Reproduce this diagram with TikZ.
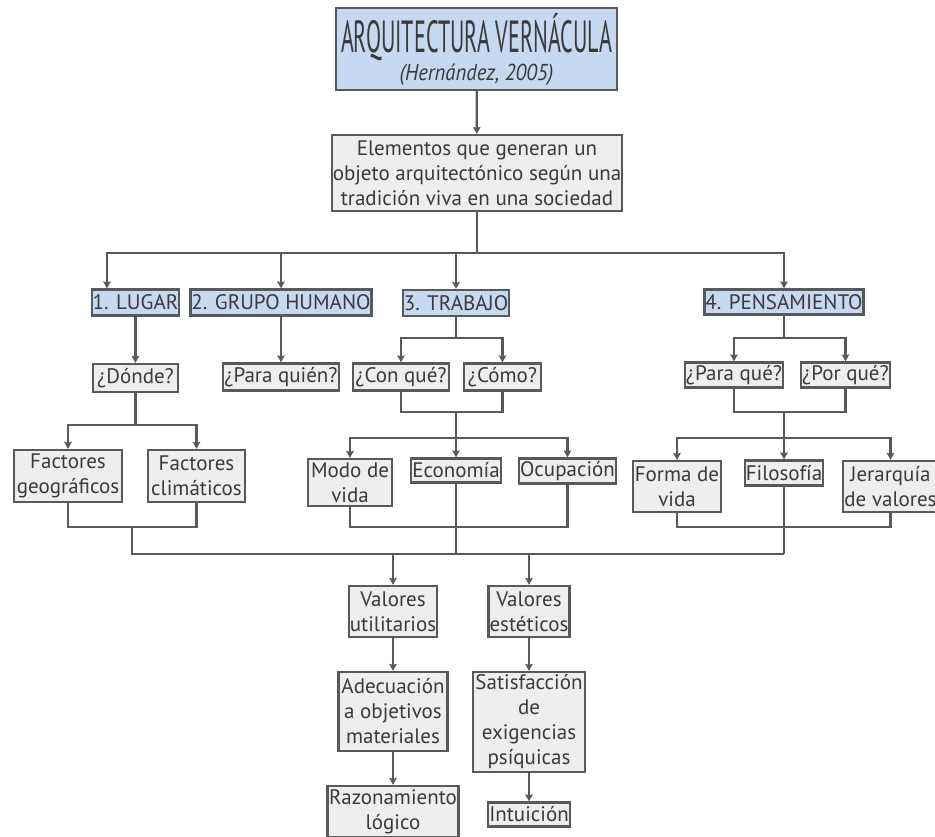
\documentclass[tikz,border=0pt]{standalone}
\usepackage{fontspec}
\setmainfont{PT Sans}
\usetikzlibrary{arrows.meta, positioning}
\definecolor{boxblue}{HTML}{C6D9F1}
\definecolor{boxgray}{HTML}{EEEEEF}
\definecolor{linegray}{HTML}{58595B}
\definecolor{textgray}{HTML}{3A3A3C}
\newcommand{\titlelook}[1]{\scalebox{0.49}[1]{\fontsize{45}{45}\selectfont #1}}
\newcommand{\sublook}[1]{\scalebox{0.9}[1]{\fontsize{23}{23}\selectfont\itshape #1}}

\tikzset{
  gbox/.style={draw=linegray, fill=boxgray, line width=2.2pt, text=textgray, align=center,
    inner sep=1pt, font=\fontsize{21}{25}\selectfont, minimum height=27pt},
  bbox/.style={gbox, fill=boxblue},
  link/.style={line width=2.2pt, linegray},
}

\begin{document}
\begin{tikzpicture}[x=1pt, y=-1pt, >={Stealth[length=7pt, width=7.5pt, inset=1pt]}]
    \useasboundingbox (0,0) rectangle (935,837);

    % cabecera
    \node[bbox, minimum width=281, minimum height=82] (title) at (476.5,49)
        {\titlelook{ARQUITECTURA VERNÁCULA}\\[3pt]\sublook{(Hernández, 2005)}};
    \node[gbox, minimum width=289, minimum height=76] (elem) at (477,173)
        {Elementos que generan un\\objeto arquitectónico según una\\tradición viva en una sociedad};

    % cuatro elementos
    \node[bbox, minimum width=83, minimum height=26] (lugar) at (135.5,302.5) {1. LUGAR};
    \node[bbox, minimum width=176, minimum height=26] (grupo) at (281,302.5) {2. GRUPO HUMANO};
    \node[bbox, minimum width=104, minimum height=26] (trabajo) at (456,303) {3. TRABAJO};
    \node[bbox, minimum width=155, minimum height=25] (pensa) at (784,302) {4. PENSAMIENTO};

    % preguntas
    \node[gbox, minimum width=85, minimum height=28] (donde) at (135.5,378) {¿Dónde?};
    \node[gbox, minimum width=113] (paraquien) at (281,377) {¿Para quién?};
    \node[gbox, minimum width=96] (conque) at (401,377) {¿Con qué?};
    \node[gbox, minimum width=77] (como) at (502.5,377) {¿Cómo?};
    \node[gbox, minimum width=96, minimum height=25] (paraque) at (734,375) {¿Para qué?};
    \node[gbox, minimum width=87, minimum height=25] (porque) at (845.5,375) {¿Por qué?};

    % factores
    \node[gbox, minimum width=108, minimum height=52] (geo) at (68,476) {Factores\\geográficos};
    \node[gbox, minimum width=97, minimum height=52] (clim) at (196.5,476) {Factores\\climáticos};
    \node[gbox, minimum width=84, minimum height=47] (modo) at (350,482.5) {Modo de\\vida};
    \node[gbox, minimum width=89, minimum height=24] (econ) at (456,470.5) {Economía};
    \node[gbox, minimum width=97, minimum height=25] (ocup) at (567.5,471) {Ocupación};
    \node[gbox, minimum width=88, minimum height=51] (forma) at (677,486.5) {Forma de\\vida};
    \node[gbox, minimum width=76, minimum height=25] (filo) at (784,473) {Filosofía};
    \node[gbox, minimum width=95, minimum height=51] (jerar) at (890.5,486.5) {Jerarquía\\de valores};

    % valores
    \node[gbox, minimum width=85, minimum height=51] (vutil) at (393,611.5) {Valores\\utilitarios};
    \node[gbox, minimum width=80, minimum height=51] (vest) at (529,611.5) {Valores\\estéticos};
    \node[gbox, minimum width=109, minimum height=79] (adec) at (393,711.5) {Adecuación\\a objetivos\\materiales};
    \node[gbox, minimum width=112, minimum height=100] (satis) at (529,722) {Satisfacción\\de\\exigencias\\psíquicas};
    \node[gbox, minimum width=131, minimum height=51] (razon) at (393,811.5) {Razonamiento\\lógico};
    \node[gbox, minimum width=78, minimum height=24] (intu) at (529,814.5) {Intuición};

    % puntos de union
    \coordinate (bus) at (477,253);
    \coordinate (tjoin) at (456,338);
    \coordinate (tmerge) at (456,412);
    \coordinate (tsplit) at (456,438);
    \coordinate (pjoin) at (784,338);
    \coordinate (pmerge) at (784,412);
    \coordinate (psplit) at (784,438);
    \coordinate (djoin) at (135.5,425);
    \coordinate (gmerge) at (132,527);
    \coordinate (wmerge) at (456,527);
    \coordinate (fmerge) at (784,527);
    \coordinate (lbus) at (132,554);
    \coordinate (wbus) at (456,554);
    \coordinate (rbus) at (784,554);

    \draw[link, ->] (title) -- (elem);
    \draw[link] (elem) -- (bus);
    \draw[link, ->] (bus) -| ([xshift=-28.5pt]lugar.north);
    \draw[link, ->] (bus) -| (grupo);
    \draw[link, ->] (bus) -| (trabajo);
    \draw[link, ->] (bus) -| (pensa);

    \draw[link, ->] (lugar) -- (donde);
    \draw[link, ->] (grupo) -- (paraquien);

    \draw[link] (trabajo) -- (tjoin);
    \draw[link, ->] (tjoin) -| (conque);
    \draw[link, ->] (tjoin) -| (como);
    \draw[link] (conque) |- (tmerge) -| (como);
    \draw[link] (tmerge) -- (tsplit);
    \draw[link, ->] (tsplit) -| (modo);
    \draw[link, ->] (tsplit) -| (econ);
    \draw[link, ->] (tsplit) -| (ocup);

    \draw[link] (pensa) -- (pjoin);
    \draw[link, ->] (pjoin) -| (paraque);
    \draw[link, ->] (pjoin) -| (porque);
    \draw[link] (paraque) |- (pmerge) -| (porque);
    \draw[link] (pmerge) -- (psplit);
    \draw[link, ->] (psplit) -| (forma);
    \draw[link, ->] (psplit) -| (filo);
    \draw[link, ->] (psplit) -| (jerar);

    \draw[link] (donde) -- (djoin);
    \draw[link, ->] (djoin) -| (geo);
    \draw[link, ->] (djoin) -| (clim);

    % hacia los valores
    \draw[link] (geo) |- (gmerge) -| (clim);
    \draw[link] (modo) |- (wmerge) -| (ocup);
    \draw[link] (forma) |- (fmerge) -| (jerar);
    \draw[link] (gmerge) -- (lbus) -- (rbus);
    \draw[link] (econ) -- (wbus);
    \draw[link] (filo) -- (rbus);
    \draw[link, ->] (vutil |- lbus) -- (vutil);
    \draw[link, ->] (vest |- lbus) -- (vest);

    \draw[link, ->] (vutil) -- (adec);
    \draw[link, ->] (adec) -- (razon);
    \draw[link, ->] (vest) -- (satis);
    \draw[link, ->] (satis) -- (intu);
\end{tikzpicture}
\end{document}
